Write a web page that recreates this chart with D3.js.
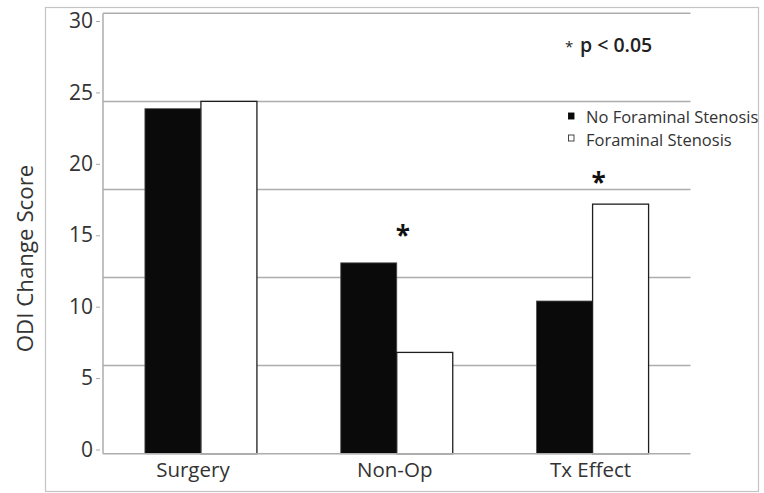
<!DOCTYPE html>
<html>
<head>
<meta charset="utf-8">
<script src="https://cdn.jsdelivr.net/npm/d3@7"></script>
<style>
  html, body { margin: 0; padding: 0; background: #fff; }
  svg { display: block; }
  text { font-family: "Open Sans", "Noto Sans", sans-serif; }
</style>
</head>
<body>
<svg id="chart" width="764" height="493"></svg>
<script>
// ---- data ----
const categories = ["Surgery", "Non-Op", "Tx Effect"];
const seriesNames = ["No Foraminal Stenosis", "Foraminal Stenosis"];
const noForaminal = [23.5, 13.0, 10.4];
const foraminal = [24.0, 6.9, 17.0];
const yTickLabels = [0, 5, 10, 15, 20, 25, 30];
const gridValues = [6, 12, 18, 24, 30];
const sigCategories = ["Non-Op", "Tx Effect"];
const sigLevels = [14.2, 17.85];

// ---- layout ----
const svg = d3.select("#chart");
const W = 764, H = 493;
const plot = { left: 103, right: 690.5, top: 13.3, bottom: 453.7 };

// outer frame
svg.append("rect")
  .attr("x", 45.5).attr("y", 7.5)
  .attr("width", 713).attr("height", 484)
  .attr("fill", "none").attr("stroke", "#c4c4c4").attr("stroke-width", 1.2);

const y = d3.scaleLinear().domain([0, 30]).range([plot.bottom, plot.top]);
// labels in the original sit on a slightly different spacing than the grid
const yLabel = d3.scaleLinear().domain([0, 30]).range([449.5, 21]);

const x0 = d3.scaleBand().domain(categories).range([plot.left, plot.right]).padding(0);
const half = 56;
const x1 = d3.scaleBand().domain(seriesNames)
  .range([x0.bandwidth() / 2 - half, x0.bandwidth() / 2 + half]).padding(0);

// gridlines
svg.append("g").selectAll("line").data(gridValues).join("line")
  .attr("x1", plot.left).attr("x2", plot.right)
  .attr("y1", d => y(d)).attr("y2", d => y(d))
  .attr("stroke", "#adadad").attr("stroke-width", 1.5);

// y-axis tick labels
const yAxis = d3.axisLeft(yLabel).tickValues(yTickLabels).tickSize(4).tickPadding(3).tickFormat(d3.format("d"));
const gy = svg.append("g").attr("transform", `translate(${plot.left - 3},0)`).call(yAxis);
gy.select(".domain").remove();
gy.selectAll(".tick line").attr("stroke", "#aaa").attr("stroke-width", 1);
gy.selectAll(".tick text")
  .attr("fill", "#333").attr("font-size", 21)
  .style("font-family", '"Open Sans", sans-serif');

// bars
const rows = categories.map((c, i) => ({ cat: c, vals: [noForaminal[i], foraminal[i]] }));
const groups = svg.append("g").selectAll("g").data(rows).join("g")
  .attr("transform", d => `translate(${x0(d.cat)},0)`);
groups.selectAll("rect").data(d => d.vals.map((v, k) => ({ key: seriesNames[k], v }))).join("rect")
  .attr("x", d => x1(d.key))
  .attr("width", x1.bandwidth())
  .attr("y", d => y(d.v))
  .attr("height", d => y(0) - y(d.v))
  .attr("fill", d => d.key === seriesNames[0] ? "#0a0a0a" : "#ffffff")
  .attr("stroke", d => d.key === seriesNames[0] ? "#4a4a4a" : "#1e1e1e")
  .attr("stroke-width", d => d.key === seriesNames[0] ? 0.8 : 1.3);

// axes lines
svg.append("line")
  .attr("x1", plot.left).attr("x2", plot.right)
  .attr("y1", y(0)).attr("y2", y(0))
  .attr("stroke", "#adadad").attr("stroke-width", 1.6);
svg.append("line")
  .attr("x1", plot.left).attr("x2", plot.left)
  .attr("y1", y(30)).attr("y2", y(0))
  .attr("stroke", "#adadad").attr("stroke-width", 1.5);

// x-axis labels
const xAxis = d3.axisBottom(x0).tickSize(0).tickPadding(0);
const gx = svg.append("g").attr("transform", `translate(0,${plot.bottom})`).call(xAxis);
gx.select(".domain").remove();
gx.selectAll(".tick text")
  .attr("y", 0).attr("dy", "23.5px")
  .attr("dx", (d, i) => i === 0 ? -8 : -2)
  .attr("fill", "#333").attr("font-size", 20.5)
  .style("font-family", '"Open Sans", sans-serif');

// y-axis title
svg.append("text")
  .attr("transform", `translate(32.5,${(163 + 354) / 2}) rotate(-90)`)
  .attr("text-anchor", "middle")
  .attr("fill", "#333").attr("font-size", 22.3)
  .text("ODI Change Score");

// significance asterisks
svg.append("g").selectAll("text").data(sigCategories.map((c, i) => ({ c, lv: sigLevels[i] }))).join("text")
  .attr("x", d => x0(d.c) + x0.bandwidth() / 2 + 6)
  .attr("y", d => y(d.lv))
  .attr("text-anchor", "middle")
  .attr("font-size", 26).attr("font-weight", "bold").attr("fill", "#111")
  .text("*");

// p-value note
const pNote = svg.append("text").attr("x", 565).attr("y", 52.3).attr("fill", "#222");
pNote.append("tspan").attr("font-size", 15).attr("dy", 0).text("*");
pNote.append("tspan").attr("x", 580).attr("font-size", 19.5).attr("font-weight", 600).text("p < 0.05");

// legend
const legend = svg.append("g");
const legendRows = [
  { name: seriesNames[0], fill: "#0a0a0a", stroke: "#0a0a0a", sy: 113, ty: 122.7 },
  { name: seriesNames[1], fill: "#ffffff", stroke: "#333", sy: 135, ty: 145.7 }
];
legendRows.forEach(r => {
  legend.append("rect")
    .attr("x", 568.5).attr("y", r.sy)
    .attr("width", 5.5).attr("height", 6)
    .attr("fill", r.fill).attr("stroke", r.stroke).attr("stroke-width", 0.9);
  legend.append("text")
    .attr("x", 586).attr("y", r.ty)
    .attr("font-size", 16.5).attr("fill", "#333")
    .text(r.name);
});
</script>
</body>
</html>
